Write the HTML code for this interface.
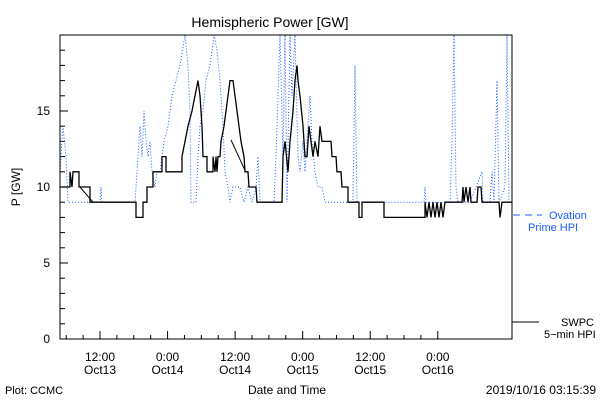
<!DOCTYPE html>
<html><head><meta charset="utf-8"><style>
body{margin:0;background:#fff;width:600px;height:400px;overflow:hidden}
svg text{font-family:"Liberation Sans",sans-serif;font-size:12px;fill:#000}
</style></head><body>
<svg id="chart" width="600" height="400" viewBox="0 0 600 400">
<text x="270" y="27" text-anchor="middle" style="font-size:14px">Hemispheric Power [GW]</text>
<g id="axes"></g>
<path id="ovation" fill="none" stroke="#1a5cff" stroke-width="1" stroke-dasharray="1,2"/>
<path id="swpc" fill="none" stroke="#000" stroke-width="1.3"/>
<path id="swpcThin" fill="none" stroke="#000" stroke-width="1"/>
<rect x="60" y="35" width="452" height="304" fill="none" stroke="#000"/>
<text transform="translate(20,187) rotate(-90)" text-anchor="middle">P [GW]</text>
<line x1="513" y1="215" x2="542" y2="215" stroke="#1a5cff" stroke-dasharray="7,5"/>
<text x="549" y="219" style="fill:#1a5cff;font-size:11px">Ovation</text>
<text x="528" y="231" style="fill:#1a5cff;font-size:11px">Prime HPI</text>
<line x1="512" y1="322" x2="539" y2="322" stroke="#000"/>
<text x="561" y="326" style="font-size:11px">SWPC</text>
<text x="544" y="338" style="font-size:11px">5−min HPI</text>
<text x="287" y="394" text-anchor="middle">Date and Time</text>
<text x="5" y="394" style="font-size:11px">Plot: CCMC</text>
<text x="596" y="394" text-anchor="end">2019/10/16 03:15:39</text>
</svg>
<script>
const yTicks=[0,5,10,15];
const xTickHours=[12,24,36,48,60,72];
const xTickTimes=["12:00","0:00","12:00","0:00","12:00","0:00"];
const xTickDates=["Oct13","Oct14","Oct14","Oct15","Oct15","Oct16"];
const swpcPx=[[60,10],[70,10],[70,11],[72,10],[73,11],[79,11],[79,10],[90,10],[90,9],[136,9],[136,8],[143,8],[143,9],[147,9],[147,10],[153,10],[153,11],[162,11],[162,12],[166,12],[166,11],[182,11],[182,12],[185,13],[188,14],[192,15],[195,16],[198,17],[200,16],[202,14],[203,12],[207,12],[207,11],[213,11],[213,12],[215,11],[216,12],[217,11],[218,12],[220,12],[221,13],[224,14],[226,15],[228,16],[230,17],[233,17],[235,16],[237,15],[239,14],[241,13],[244,12],[245,11],[248,11],[249,10],[256,10],[257,9],[282,9],[283,12],[285,13],[288,11],[290,13],[293,15],[295,17],[297,18],[298,17],[300,16],[303,14],[305,12],[307,12],[309,14],[311,13],[313,12],[315,13],[318,12],[320,14],[322,13],[331,13],[332,12],[336,12],[337,11],[341,11],[342,10],[348,10],[348,9],[359,9],[359,8],[362,8],[362,9],[384,9],[384,8],[425,8],[425,9],[427,8],[429,9],[431,8],[433,9],[435,8],[437,9],[439,8],[441,9],[443,8],[445,9],[448,9],[462,9],[463,10],[464,9],[466,10],[468,9],[470,10],[471,9],[477,9],[478,10],[481,10],[482,9],[499,9],[500,8],[502,9],[512,9]];
const swpcThinPx=[[[80,10],[93,9]],[[231,13.1],[245,11.1]]];
const ovationPx=[[60,11],[63,14],[66,12],[68,9],[100,9],[101,10],[102,9],[135,9],[137,11],[140,14],[142,12],[144,15],[146,13],[148,12],[150,13],[152,11],[155,10],[157,11],[160,11],[162,12],[164,13],[168,14],[172,16],[176,17],[180,18],[185,20],[188,18],[190,15],[191,9],[196,9],[198,12],[200,14],[203,15],[206,17],[210,18],[214,20],[217,19],[220,17],[223,14],[225,11],[228,10],[230,9],[233,10],[240,10],[244,9],[248,10],[252,9],[256,10],[258,12],[260,9],[274,9],[276,12],[278,16],[280,20],[283,12],[285,20],[287,9],[290,20],[292,16],[295,20],[298,12],[300,11],[303,13],[305,11],[308,14],[310,16],[312,13],[315,11],[318,10],[322,10],[325,9],[353,9],[355,18],[357,9],[424,9],[425,10],[426,9],[450,9],[452,13],[454,20],[456,10],[458,9],[470,9],[482,11],[483,9],[490,9],[492,11],[494,9],[497,17],[499,9],[505,10],[507,20],[509,9],[512,9]];
const toH=p=>(p-100)/5.63+12;
const swpc=swpcPx.map(d=>[toH(d[0]),d[1]]);
const ovation=ovationPx.map(d=>[toH(d[0]),d[1]]);
const swpcThin=swpcThinPx.map(s=>s.map(d=>[toH(d[0]),d[1]]));
const X=h=>100+(h-12)*5.63;
const Y=v=>339-v*15.2;
const pathOf=a=>a.map((d,i)=>(i?'L':'M')+X(d[0]).toFixed(1)+','+Math.max(35,Y(d[1])).toFixed(1)).join('');
document.getElementById('swpc').setAttribute('d',pathOf(swpc));
document.getElementById('ovation').setAttribute('d',pathOf(ovation));
document.getElementById('swpcThin').setAttribute('d',swpcThin.map(pathOf).join(''));
const NS='http://www.w3.org/2000/svg',ax=document.getElementById('axes');
function mk(t,at){const e=document.createElementNS(NS,t);for(const k in at)e.setAttribute(k,at[k]);ax.appendChild(e);return e;}
for(let v=0;v<=19;v++){const maj=v%5===0;const l=mk('line',{x1:60,x2:maj?68:65,y1:Y(v),y2:Y(v),stroke:'#000'});

}
yTicks.forEach(v=>{const t=mk('text',{x:50,y:Y(v)+4,'text-anchor':'end'});t.textContent=v;

});
for(let h=6;h<=72;h+=3){const x=X(h);if(x<60||x>512)continue;const maj=h%12===0;const l=mk('line',{x1:x,x2:x,y1:339,y2:maj?331:335,stroke:'#000'});

}
xTickHours.forEach((h,i)=>{const t1=mk('text',{x:X(h),y:361,'text-anchor':'middle'});t1.textContent=xTickTimes[i];


const t2=mk('text',{x:X(h),y:374,'text-anchor':'middle'});t2.textContent=xTickDates[i];

});
</script>
</body></html>
